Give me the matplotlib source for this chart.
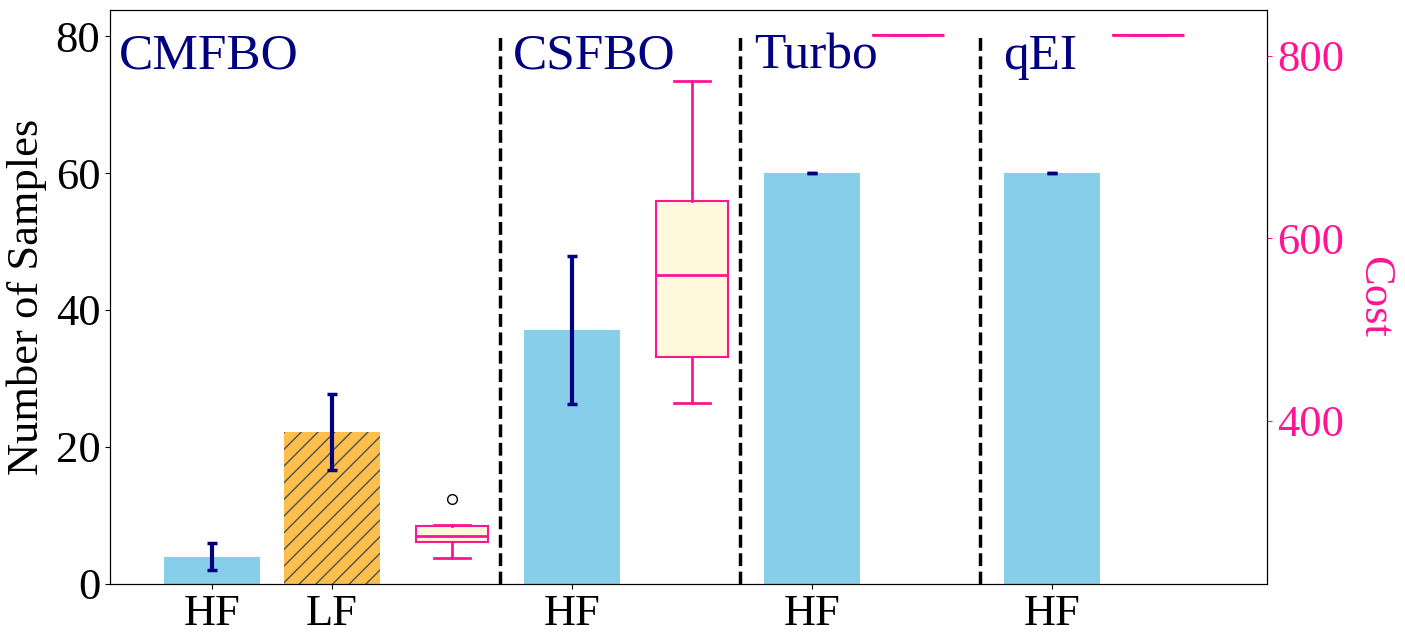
import matplotlib
matplotlib.use("Agg")
from matplotlib import pyplot as plt

plt.rcParams['font.family'] = ['Liberation Serif', 'DejaVu Serif']

# sample counts (bars, left axis)
bar_pos = [0, 1, 3, 5, 7]
bar_mean = [4.0, 22.2, 37.1, 60.0, 60.0]
bar_err = [2.0, 5.5, 10.8, 0.0, 0.0]
bar_colors = ['skyblue', (1.0, 0.647, 0.0, 0.7), 'skyblue', 'skyblue', 'skyblue']
tick_labels = ['HF', 'LF', 'HF', 'HF', 'HF']

# cost boxplots (right axis)
box_pos = [2, 4, 5.8, 7.8]
box_low = [250, 419, 823, 823]
box_q1 = [267, 470, 823, 823]
box_med = [274, 560, 823, 823]
box_q3 = [285, 641, 823, 823]
box_high = [286, 772, 823, 823]
box_fliers = [[314.5], [], [], []]

groups = ['CMFBO', 'CSFBO', 'Turbo', 'qEI']
group_x = [-0.78, 2.51, 4.52, 6.59]
sep_x = [2.4, 4.4, 6.4]

fig = plt.figure(figsize=(14.05, 6.44), dpi=100)
ax = fig.add_axes([0.0783, 0.0932, 0.8235, 0.8913])

for i in range(len(bar_pos)):
    hatch = '//' if tick_labels[i] == 'LF' else None
    ax.bar(bar_pos[i], bar_mean[i], width=0.8, color=bar_colors[i],
           edgecolor='#505050' if hatch else 'none', linewidth=0, hatch=hatch)
ax.errorbar(bar_pos, bar_mean, yerr=bar_err, fmt='none', ecolor='navy',
            elinewidth=3, capsize=3.5, capthick=2.5)

ax.vlines(sep_x, 0, 80, colors='black', linestyles='--', linewidth=2.5)

for name, gx in zip(groups, group_x):
    ax.text(gx, 80.4, name, color='navy', fontsize=37, va='top', ha='left')

ax.set_xlim(-0.85, 8.79)
ax.set_ylim(0, 83.8)
ax.set_xticks(bar_pos)
ax.set_xticklabels(tick_labels, fontsize=32)
ax.set_yticks([0, 20, 40, 60, 80])
ax.tick_params(axis='y', labelsize=32)
ax.set_ylabel('Number of Samples', fontsize=32, labelpad=6)

ax2 = ax.twinx()
stats = []
for i in range(len(box_pos)):
    stats.append({'whislo': box_low[i], 'q1': box_q1[i], 'med': box_med[i],
                  'q3': box_q3[i], 'whishi': box_high[i], 'fliers': box_fliers[i]})
ax2.bxp(stats, positions=box_pos, widths=0.6, patch_artist=True,
        boxprops=dict(facecolor='cornsilk', edgecolor='deeppink', linewidth=1.5),
        medianprops=dict(color='deeppink', linewidth=2),
        whiskerprops=dict(color='deeppink', linewidth=2),
        capprops=dict(color='deeppink', linewidth=2),
        flierprops=dict(marker='o', markerfacecolor='none', markeredgecolor='black',
                        markersize=7))
ax2.set_ylim(221, 850)
ax2.set_yticks([400, 600, 800])
ax2.tick_params(axis='y', colors='deeppink', labelsize=32)
ax2.set_ylabel('Cost', color='deeppink', fontsize=32, rotation=270, labelpad=36)
ax2.set_xlim(-0.85, 8.79)
ax2.set_xticks(bar_pos)
ax2.set_xticklabels(tick_labels, fontsize=32)

fig.savefig('out.png', dpi=100)
